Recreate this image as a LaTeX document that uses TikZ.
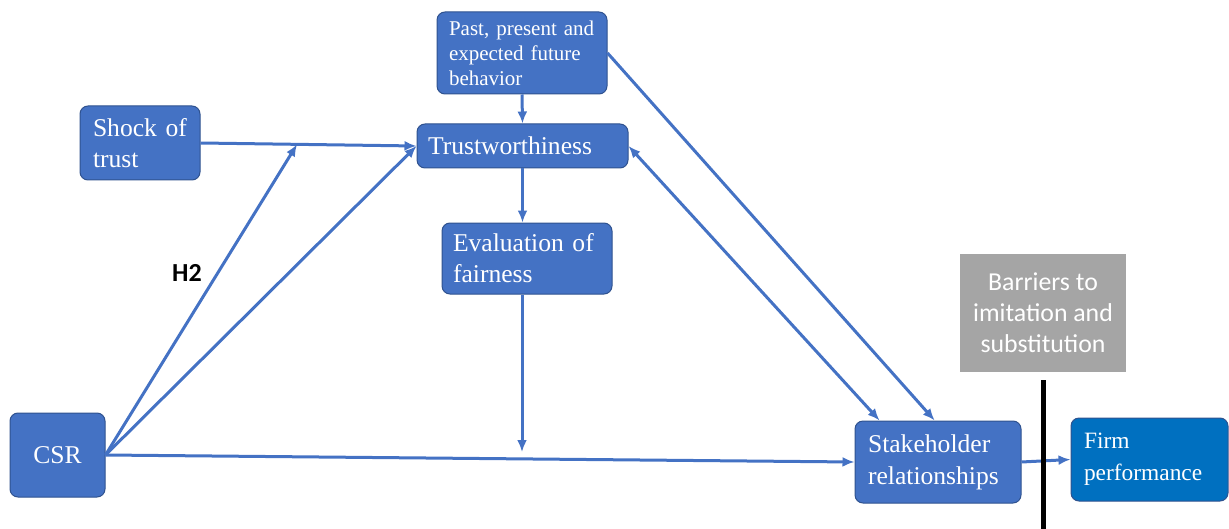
\documentclass[tikz,border=0pt]{standalone}
\usepackage{fontspec}
\setmainfont{Liberation Serif}
\newfontfamily\calibri{Carlito}
\usetikzlibrary{arrows.meta}
\usetikzlibrary{calc}
\definecolor{boxblue}{HTML}{4472C4}
\definecolor{boxedge}{HTML}{2F528F}
\definecolor{firmblue}{HTML}{0070C0}
\definecolor{bargray}{HTML}{A5A5A5}

\begin{document}
\begin{tikzpicture}[x = 0.5pt, y = -0.5pt,
    box/.style = {rectangle, rounded corners = 4pt, fill = boxblue, draw = boxedge,
        line width = 0.5pt, text = white, inner sep = 0pt, align = left,
        font = \fontsize{12.8}{15.5}\selectfont},
    link/.style = {boxblue, line width = 1.5pt, -{Latex[length=6pt, width=5pt]}}]
    \useasboundingbox (0, 0) rectangle (1229, 529);

    %% boxes
    \node[box, minimum width = 85pt, minimum height = 41pt, text width = 73pt,
        font = \fontsize{10.5}{12.5}\selectfont] (past) at (522, 53)
        {Past, present and\\expected future\\behavior};
    \node[box, minimum width = 105.5pt, minimum height = 22pt, text width = 94.5pt] (trust) at (522.5, 146) {Trustworthiness};
    \node[box, minimum width = 60pt, minimum height = 37pt, text width = 47pt] (shock) at (140, 143) {Shock of\\trust};
    \node[box, minimum width = 85pt, minimum height = 35.5pt, text width = 74pt] (eval) at (527, 258.5) {Evaluation of\\fairness};
    \node[box, minimum width = 47.5pt, minimum height = 42pt, text width = 40pt, align = center] (csr) at (57.5, 455) {CSR};
    \node[box, minimum width = 83pt, minimum height = 41pt, text width = 70pt,
        font = \fontsize{12.8}{16}\selectfont] (stake) at (938, 462) {Stakeholder\\relationships};
    \node[box, fill = firmblue, minimum width = 78.5pt, minimum height = 41.5pt, text width = 65.5pt,
        font = \fontsize{11.7}{16}\selectfont] (firm) at (1149.5, 459.5) {Firm\\performance};
    \node[rectangle, fill = bargray, text = white, inner sep = 0pt, align = center,
        minimum width = 83pt, minimum height = 59pt,
        font = \calibri\fontsize{12.9}{15.5}\selectfont] (barrier) at (1043, 313)
        {Barriers to\\imitation and\\substitution};
    \node[font = \calibri\bfseries\fontsize{13}{15}\selectfont] (h2) at (187, 273) {H2};

    %% helper points
    \coordinate (moder) at ($(shock.east)!0.447!(trust.west)$);
    \coordinate (fairend) at (522, 452);
    \coordinate (bartop) at (1043, 380);
    \coordinate (barbot) at (1043, 529);

    %% arrows
    \draw[link] (past.south) -- (trust.north);
    \draw[link] (trust.south) -- (trust.south |- eval.north);
    \draw[link] (shock.east) -- (trust.west);
    \draw[link] (csr.east) -- (moder);
    \draw[link] (csr.east) -- (trust.west);
    \draw[link] (csr.east) -- (stake.west);
    \draw[link] (fairend |- eval.south) -- (fairend);
    \draw[link] (past.east) -- ($(stake.north west)!0.48!(stake.north east)$);
    \draw[link, {Latex[length=6pt, width=5pt]}-{Latex[length=6pt, width=5pt]}]
        (trust.east) -- ($(stake.north west)!0.15!(stake.north east)$);
    \draw[link] (stake.east) -- (firm.west);

    %% barrier line
    \draw[line width = 2.5pt] (bartop) -- (barbot);
\end{tikzpicture}
\end{document}
